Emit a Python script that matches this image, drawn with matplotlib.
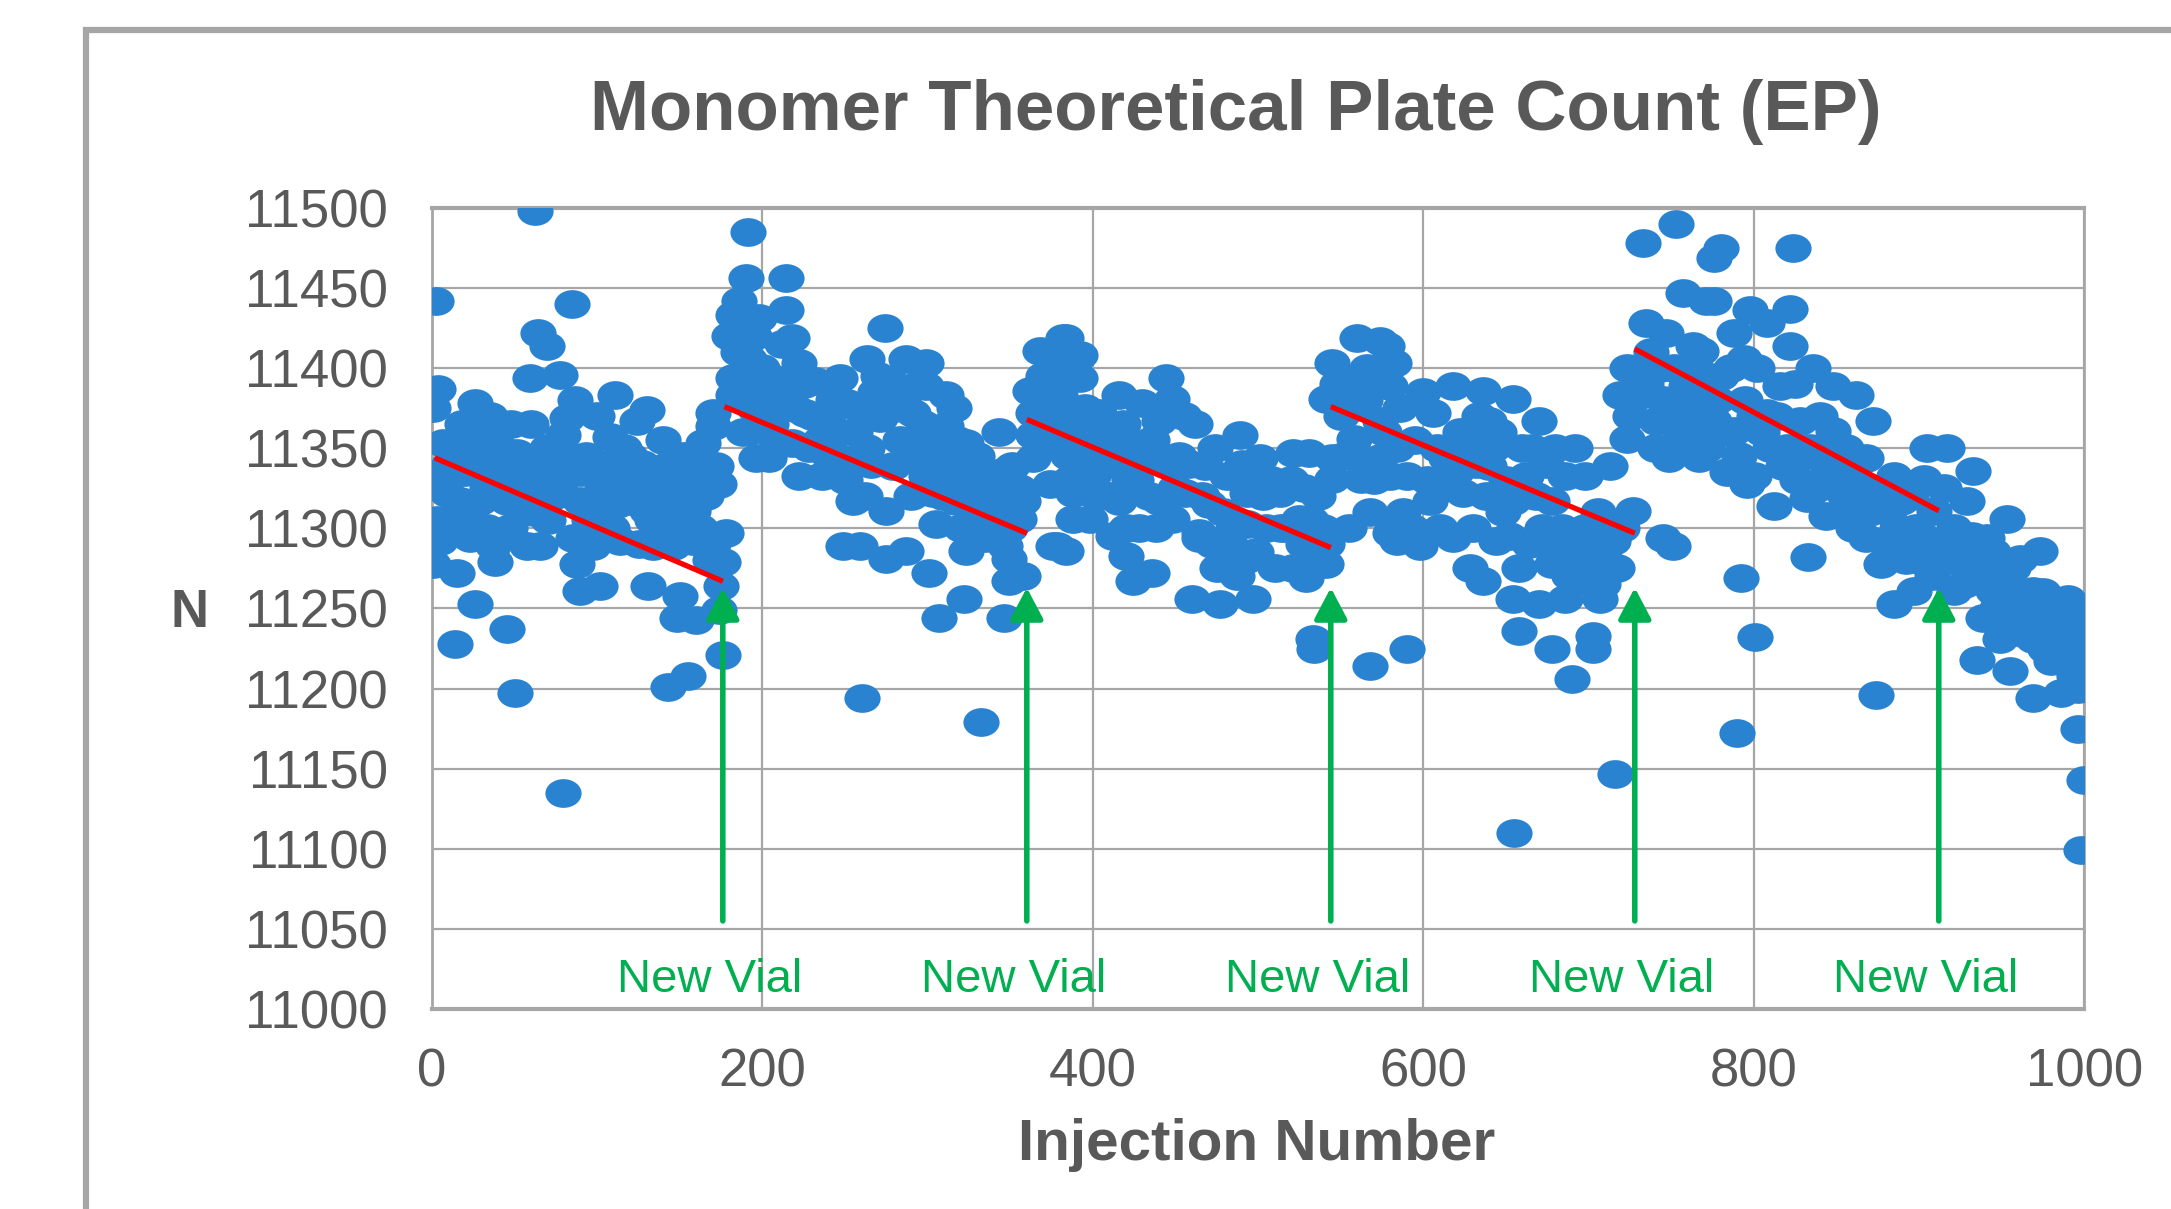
import matplotlib
matplotlib.use("Agg")
import matplotlib.pyplot as plt
from matplotlib.path import Path
from matplotlib.patches import Rectangle

plt.rcParams["font.family"] = ["Liberation Sans", "DejaVu Sans"]

# injection number / plate count (N), one list per vial
vial1 = [
    (0.8, 11375), (0.8, 11278), (2.4, 11442), (3, 11305), (3.8, 11387), (4.8, 11292), (5, 11330),
    (6.9, 11353), (8.9, 11322), (10, 11340), (12.9, 11300), (13.9, 11228), (14.9, 11272), (15, 11345),
    (17, 11317), (18, 11365), (20, 11335), (22, 11310), (23, 11294), (26, 11378), (26, 11253),
    (27, 11356), (29, 11317), (30, 11340), (33, 11325), (33, 11300), (35, 11370), (37, 11361),
    (37.1, 11289), (38.1, 11279), (40, 11330), (41.2, 11350), (44, 11345), (45.2, 11317), (45.2, 11237),
    (47, 11300), (48, 11365), (50.2, 11197), (51.3, 11347), (53.3, 11328), (55, 11310), (55, 11335),
    (57.3, 11289), (59.3, 11394), (60, 11365), (61.3, 11344), (62, 11310), (62.3, 11498), (64.4, 11422),
    (65.4, 11322), (65.4, 11289), (67, 11335), (69.4, 11414), (69.4, 11350), (70, 11305), (73, 11320),
    (75, 11340), (77.5, 11396), (77.5, 11328), (79.5, 11358), (79.5, 11135), (81.5, 11369),
    (82, 11345), (84.5, 11440), (85.6, 11294), (86.6, 11380), (87.6, 11278), (89.6, 11317),
    (89.6, 11261), (90, 11335), (92, 11290), (93, 11345), (95, 11305), (97.7, 11336), (97.7, 11289),
    (100, 11370), (101.7, 11264), (103, 11325), (105, 11340), (105.7, 11311), (107.7, 11357),
    (109, 11300), (110.8, 11383), (112, 11315), (113.8, 11333), (113.8, 11292), (116, 11350),
    (117.8, 11317), (120, 11345), (122, 11325), (123.9, 11367), (125, 11290), (127, 11340),
    (129.9, 11311), (130, 11374), (131, 11264), (133, 11305), (134, 11333), (134, 11289), (137, 11320),
    (138, 11305), (140, 11355), (142, 11339), (143, 11201), (144, 11300), (146, 11317), (146, 11289),
    (148, 11244), (148, 11330), (150, 11258), (152, 11345), (154, 11328), (155, 11208), (156, 11300),
    (158, 11311), (158, 11292), (160, 11243), (160, 11318), (162, 11300), (164, 11353), (165, 11340),
    (166, 11320), (168, 11280), (170, 11364), (170, 11372), (170, 11290), (172, 11339), (174, 11328),
    (174, 11249), (175, 11264), (176, 11279), (176, 11221), (178, 11297),
]
vial2 = [
    (180, 11420), (182, 11433), (182, 11394), (182, 11383), (185, 11410), (186, 11442), (187, 11395),
    (188, 11360), (190, 11456), (191, 11485), (192, 11419), (192, 11406), (192, 11392), (192, 11361),
    (195, 11375), (195, 11420), (196, 11344), (198, 11431), (200, 11400), (202, 11380), (204, 11344),
    (205, 11365), (206, 11394), (208, 11355), (210, 11378), (212, 11415), (214, 11456), (214, 11436),
    (215, 11390), (218, 11419), (218, 11353), (220, 11375), (222, 11403), (222, 11333), (225, 11390),
    (226, 11372), (228, 11350), (230, 11370), (232, 11392), (235, 11355), (236, 11333), (240, 11365),
    (240, 11345), (243, 11380), (245, 11360), (247, 11394), (247, 11344), (249, 11289), (250, 11330),
    (251, 11378), (255, 11317), (256, 11360), (258, 11375), (259, 11289), (260, 11194), (262, 11320),
    (263, 11406), (263, 11350), (266, 11340), (268, 11385), (270, 11395), (271, 11369), (274, 11425),
    (275, 11311), (275, 11281), (277, 11392), (279, 11339), (280, 11375), (283, 11355), (285, 11380),
    (287, 11406), (287, 11286), (290, 11320), (291, 11372), (293, 11345), (295, 11390), (297, 11365),
    (299, 11403), (299, 11389), (299, 11333), (301, 11272), (302, 11355), (303, 11322), (305, 11303),
    (307, 11344), (307, 11244), (309, 11320), (311, 11383), (311, 11364), (313, 11345), (315, 11330),
    (316, 11375), (317, 11317), (318, 11355), (320, 11300), (322, 11256), (323, 11353), (323, 11286),
    (325, 11325), (327, 11339), (330, 11345), (331, 11311), (332, 11179), (333, 11330), (335, 11294),
    (335, 11320), (338, 11315), (339, 11333), (340, 11300), (343, 11360), (345, 11335), (346, 11244),
    (347, 11317), (347, 11289), (349, 11281), (349, 11267), (350, 11300), (351, 11339), (353, 11320),
    (355, 11306), (355, 11325), (358, 11270),
]
vial3 = [
    (358, 11317), (362, 11386), (364, 11372), (364, 11358), (364, 11344), (366, 11385), (368, 11411),
    (370, 11365), (370, 11395), (372, 11395), (374, 11328), (375, 11405), (376, 11289), (378, 11380),
    (378, 11289), (380, 11350), (380, 11383), (382, 11419), (382, 11365), (384, 11419), (384, 11286),
    (385, 11345), (386, 11331), (388, 11400), (388, 11322), (388, 11306), (390, 11370), (392, 11408),
    (392, 11394), (394, 11335), (395, 11375), (396, 11353), (398, 11306), (400, 11333), (400, 11360),
    (402, 11320), (404, 11372), (405, 11345), (408, 11360), (410, 11320), (412, 11295), (413, 11340),
    (416, 11383), (416, 11317), (418, 11365), (420, 11353), (420, 11300), (420, 11283), (422, 11330),
    (424, 11267), (426, 11330), (428, 11300), (430, 11378), (432, 11344), (434, 11320), (436, 11272),
    (436, 11355), (438, 11300), (440, 11367), (440, 11317), (444, 11394), (445, 11340), (448, 11381),
    (448, 11306), (450, 11325), (452, 11345), (455, 11370), (456, 11322), (458, 11340), (460, 11256),
    (462, 11365), (464, 11297), (464, 11294), (466, 11320), (468, 11339), (470, 11315), (472, 11290),
    (474, 11350), (475, 11275), (477, 11253), (479, 11310), (481, 11333), (483, 11290), (485, 11300),
    (487, 11270), (489, 11358), (490, 11340), (493, 11322), (493, 11303), (493, 11281), (496, 11330),
    (497, 11256), (499, 11285), (501, 11344), (503, 11320), (505, 11300), (508, 11330), (510, 11275),
    (513, 11322), (514, 11300), (517, 11300), (520, 11330), (521, 11347), (521, 11275), (525, 11306),
    (527, 11290), (528, 11325), (529, 11269), (531, 11347), (532, 11305), (533, 11231), (534, 11225),
    (536, 11320), (538, 11280), (539, 11300), (541, 11278), (542, 11290), (545, 11344),
]
vial4 = [
    (541, 11381), (545, 11403), (545, 11331), (548, 11390), (550, 11370), (552, 11345), (555, 11300),
    (556, 11375), (558, 11356), (560, 11419), (560, 11345), (562, 11394), (562, 11331), (565, 11380),
    (566, 11400), (568, 11214), (568, 11310), (570, 11330), (572, 11390), (574, 11417), (574, 11367),
    (574, 11344), (576, 11360), (578, 11414), (580, 11389), (580, 11333), (580, 11297), (582, 11403),
    (582, 11300), (584, 11292), (584, 11350), (586, 11375), (588, 11310), (590, 11225), (590, 11333),
    (593, 11300), (595, 11355), (598, 11289), (600, 11385), (602, 11330), (604, 11317), (606, 11372),
    (608, 11350), (610, 11300), (612, 11325), (614, 11344), (618, 11389), (618, 11294), (620, 11335),
    (622, 11360), (624, 11322), (626, 11340), (628, 11356), (628, 11275), (630, 11300), (632, 11340),
    (634, 11370), (636, 11386), (636, 11267), (638, 11320), (640, 11367), (640, 11339), (642, 11350),
    (644, 11292), (646, 11360), (648, 11310), (650, 11330), (652, 11295), (654, 11381), (654, 11317),
    (654, 11256), (655, 11110), (658, 11275), (658, 11236), (660, 11350), (662, 11333), (664, 11290),
    (666, 11350), (668, 11320), (670, 11367), (670, 11253), (672, 11300), (674, 11340), (676, 11290),
    (678, 11317), (678, 11278), (678, 11225), (680, 11350), (684, 11300), (686, 11333), (686, 11256),
    (688, 11270), (690, 11206), (690, 11290), (692, 11350), (694, 11267), (696, 11280), (698, 11333),
    (698, 11300), (700, 11270), (702, 11290), (703, 11233), (703, 11225), (706, 11310), (707, 11256),
    (709, 11265), (710, 11280), (712, 11300), (713, 11339), (715, 11292), (716, 11147), (717, 11275),
    (720, 11300), (727, 11311),
]
vial5 = [
    (719, 11383), (723, 11400), (723, 11356), (725, 11370), (727, 11381), (730, 11395), (733, 11478),
    (735, 11428), (735, 11390), (738, 11410), (740, 11350), (741, 11367), (743, 11400), (745, 11294),
    (745, 11380), (747, 11422), (749, 11344), (750, 11370), (751, 11289), (752, 11400), (753, 11490),
    (755, 11355), (756, 11380), (757, 11447), (759, 11389), (759, 11369), (761, 11350), (763, 11414),
    (765, 11380), (765, 11400), (767, 11344), (768, 11411), (770, 11365), (771, 11442), (772, 11350),
    (774, 11394), (776, 11469), (776, 11367), (776, 11442), (778, 11380), (780, 11475), (780, 11395),
    (782, 11360), (784, 11335), (786, 11400), (788, 11422), (788, 11361), (790, 11172), (791, 11345),
    (792, 11269), (794, 11406), (795, 11380), (796, 11328), (798, 11436), (800, 11333), (800, 11370),
    (801, 11232), (802, 11400), (805, 11360), (808, 11428), (808, 11372), (810, 11350), (812, 11314),
    (814, 11370), (816, 11389), (818, 11339), (820, 11350), (822, 11437), (822, 11414), (824, 11475),
    (825, 11390), (826, 11330), (828, 11367), (830, 11345), (832, 11319), (833, 11282), (834, 11350),
    (836, 11400), (838, 11325), (840, 11370), (842, 11345), (844, 11333), (844, 11308), (848, 11389),
    (848, 11361), (850, 11345), (852, 11325), (855, 11320), (856, 11350), (858, 11335), (860, 11300),
    (862, 11383), (864, 11311), (866, 11325), (868, 11344), (868, 11294), (870, 11310), (872, 11367),
    (874, 11196), (876, 11320), (877, 11278), (880, 11290), (882, 11310), (885, 11333), (885, 11253),
    (887, 11300), (889, 11317), (892, 11280), (893, 11294), (895, 11320), (897, 11261), (898, 11300),
    (900, 11280), (902, 11295), (903, 11331), (905, 11350), (905, 11281), (908, 11270), (909, 11311),
    (912, 11290), (915, 11325), (917, 11350), (918, 11280), (921, 11300), (921, 11261), (924, 11295),
    (925, 11281), (927, 11265), (929, 11317), (930, 11270), (932, 11295), (933, 11336), (935, 11218),
    (936, 11280), (939, 11244), (941, 11294), (942, 11270), (945, 11261), (945, 11285), (947, 11250),
    (949, 11231), (950, 11265), (952, 11245), (953, 11306), (955, 11211), (957, 11275), (959, 11260),
    (961, 11281), (961, 11244), (963, 11235), (965, 11250), (967, 11245), (969, 11261), (969, 11231),
    (969, 11194), (972, 11250), (973, 11286), (975, 11260), (976, 11225), (978, 11240), (980, 11217),
    (982, 11225), (984, 11235), (986, 11244), (986, 11197), (988, 11220), (990, 11256), (990, 11231),
    (992, 11240), (993, 11245), (994, 11208), (995, 11250), (996, 11175), (996, 11200), (997, 11225),
    (998, 11099), (999, 11235), (1000, 11217), (1000, 11143),
]

# hand drawn trend segments per vial: (x0, N0, x1, N1)
trends = [
    (1.7, 11344, 176, 11267),
    (177, 11376, 360, 11297),
    (360, 11368, 544, 11288),
    (544, 11376, 728, 11297),
    (728, 11412, 912, 11311),
]
new_vial_at = [176, 360, 544, 728, 912]
arrow_from, arrow_to = 11055, 11263
label_n = 11018

fig = plt.figure(figsize=(21.71, 12.09), dpi=100)
ax = fig.add_axes([0.199, 0.1654, 0.761, 0.6626])

# outer chart frame (cut off at right and bottom)
fig.patches.append(Rectangle((86 / 2171, -0.2), 1.0, 1.2 - 30 / 1209, transform=fig.transFigure,
                             fill=False, edgecolor="#a6a6a6", linewidth=4.5, zorder=0))

circ = Path.unit_circle()
ellipse = Path(circ.vertices * [1.26, 1.0], circ.codes)

for vial in [vial1, vial2, vial3, vial4, vial5]:
    xs = [p[0] for p in vial]
    ns = [p[1] for p in vial]
    ax.scatter(xs, ns, s=680, marker=ellipse, color="#2a83d1", linewidths=0, zorder=3)

for x0, n0, x1, n1 in trends:
    ax.plot([x0, x1], [n0, n1], color="#ff0000", lw=3.8, solid_capstyle="butt", zorder=4)

for x in new_vial_at:
    ax.annotate("", xy=(x, arrow_to), xytext=(x, arrow_from),
                arrowprops=dict(arrowstyle="-|>,head_length=0.95,head_width=0.5", color="#00b050",
                                lw=4, shrinkA=0, shrinkB=0, mutation_scale=20), zorder=5)
    ax.text(x - 8, label_n, "New Vial", color="#00b050", fontsize=34, ha="center", va="center", zorder=5)

ax.set_xlim(0, 1000)
ax.set_ylim(11000, 11500)
ax.set_xticks(range(0, 1001, 200))
ax.set_yticks(range(11000, 11501, 50))
ax.grid(True, color="#a6a6a6", lw=1.6, zorder=0)
ax.set_axisbelow(True)
ax.tick_params(length=0, labelsize=38, labelcolor="#595959")
ax.tick_params(axis="y", pad=32)
ax.tick_params(axis="x", pad=28)
for side, sp in ax.spines.items():
    sp.set_color("#a6a6a6")
    sp.set_linewidth(3 if side in ("top", "bottom") else 2)

fig.text(0.569, 0.907, "Monomer Theoretical Plate Count (EP)", fontsize=51, fontweight="bold",
         color="#595959", ha="center", va="center")
fig.text(0.0875, 0.493, "N", fontsize=38, fontweight="bold", color="#595959", ha="center", va="center")
fig.text(0.579, 0.053, "Injection Number", fontsize=42, fontweight="bold", color="#595959",
         ha="center", va="center")

fig.savefig("out.png", dpi=100)
